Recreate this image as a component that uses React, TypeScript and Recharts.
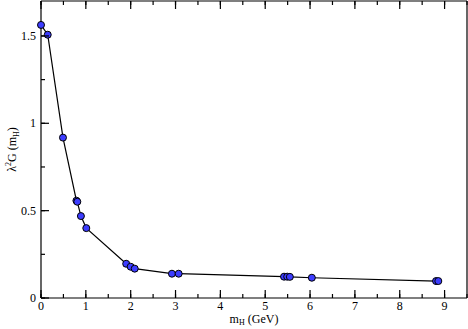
import React from 'react';
import { LineChart, Line, XAxis, YAxis } from 'recharts';

const mH = [0.0, 0.15, 0.49, 0.79, 0.81, 0.89, 1.01, 1.9, 2.0, 2.09, 2.92, 3.07, 5.42, 5.49, 5.55, 6.04, 8.81, 8.86];
const lambda2G = [1.563, 1.507, 0.918, 0.557, 0.551, 0.469, 0.4, 0.196, 0.179, 0.168, 0.139, 0.139, 0.122, 0.122, 0.121, 0.116, 0.097, 0.097];

const xTicks = [0, 0.5, 1, 1.5, 2, 2.5, 3, 3.5, 4, 4.5, 5, 5.5, 6, 6.5, 7, 7.5, 8, 8.5, 9, 9.5];
const yTicks = [0, 0.25, 0.5, 0.75, 1, 1.25, 1.5];

const data = mH.map((m, i) => ({ m, g: lambda2G[i] }));

const FONT = '"Liberation Serif", "DejaVu Serif", serif';
const MINOR = 4; // minor tick length (drawn by recharts, pointing inward)
const MAJOR = 8;
const TW = 1.2;

const isMajorX = (v: number) => Number.isInteger(v);
const isMajorY = (v: number) => Math.abs(v * 2 - Math.round(v * 2)) < 1e-9;

// custom ticks get the text anchor point, which sits MINOR px inside the axis line
const BottomTick = (props: any) => {
  const { x, y, payload } = props;
  if (!isMajorX(payload.value)) return <g />;
  const ay = y + MINOR;
  return (
    <g>
      <rect x={x - TW / 2} y={ay - MAJOR} width={TW} height={MAJOR} fill="#000" />
      <text x={x} y={ay + 12} textAnchor="middle" fontFamily={FONT} fontSize={12} fill="#000" stroke="none">
        {payload.value}
      </text>
    </g>
  );
};

const TopTick = (props: any) => {
  const { x, y, payload } = props;
  if (!isMajorX(payload.value)) return <g />;
  const ay = y - MINOR;
  return <rect x={x - TW / 2} y={ay} width={TW} height={MAJOR} fill="#000" />;
};

const LeftTick = (props: any) => {
  const { x, y, payload } = props;
  if (!isMajorY(payload.value)) return <g />;
  const ax = x - MINOR;
  return (
    <g>
      <rect x={ax} y={y - TW / 2} width={MAJOR} height={TW} fill="#000" />
      <text x={ax - 5} y={y + 4} textAnchor="end" fontFamily={FONT} fontSize={12} fill="#000" stroke="none">
        {payload.value}
      </text>
    </g>
  );
};

const RightTick = (props: any) => {
  const { x, y, payload } = props;
  if (!isMajorY(payload.value)) return <g />;
  const ax = x + MINOR;
  return <rect x={ax - MAJOR} y={y - TW / 2} width={MAJOR} height={TW} fill="#000" />;
};

const XLabel = (props: any) => {
  const { x, y, width } = props.viewBox;
  return (
    <text x={x + width / 2} y={y + 25} textAnchor="middle" fontFamily={FONT} fontSize={12} fill="#000">
      m<tspan fontSize={8} dy={2}>H</tspan>
      <tspan dy={-2}> (GeV)</tspan>
    </text>
  );
};

const YLabel = (props: any) => {
  const { y, height } = props.viewBox;
  const cx = 16;
  const cy = y + height / 2;
  return (
    <text x={cx} y={cy} textAnchor="middle" fontFamily={FONT} fontSize={12} fill="#000" transform={`rotate(-90 ${cx} ${cy})`}>
      λ<tspan fontSize={8} dy={-5}>2</tspan>
      <tspan dy={5}>G (m</tspan>
      <tspan fontSize={8} dy={3}>H</tspan>
      <tspan dy={-3}>)</tspan>
    </text>
  );
};

const axisLine = { stroke: '#000', strokeWidth: 1.2 };
const tickLine = { stroke: '#000', strokeWidth: TW };

export default function App() {
  return (
    <div style={{ position: 'absolute', left: 0, top: 0, background: '#fff' }}>
      <LineChart width={468} height={329} data={data} margin={{ top: 0, right: 0, left: 0, bottom: 0 }}>
        <XAxis xAxisId="bottom" dataKey="m" type="number" domain={[0, 9.5]} ticks={xTicks} interval={0} height={31}
          tickSize={-MINOR} tickMargin={0} tickLine={tickLine} tick={<BottomTick />} axisLine={axisLine} label={<XLabel />} />
        <XAxis xAxisId="top" orientation="top" dataKey="m" type="number" domain={[0, 9.5]} ticks={xTicks} interval={0} height={1}
          tickSize={-MINOR} tickMargin={0} tickLine={tickLine} tick={<TopTick />} axisLine={axisLine} />
        <YAxis yAxisId="left" type="number" domain={[0, 1.7]} ticks={yTicks} interval={0} width={41}
          tickSize={-MINOR} tickMargin={0} tickLine={tickLine} tick={<LeftTick />} axisLine={axisLine} label={<YLabel />} />
        <YAxis yAxisId="right" orientation="right" type="number" domain={[0, 1.7]} ticks={yTicks} interval={0} width={1}
          tickSize={-MINOR} tickMargin={0} tickLine={tickLine} tick={<RightTick />} axisLine={axisLine} />
        <Line xAxisId="bottom" yAxisId="left" dataKey="g" type="linear" stroke="#000" strokeWidth={1.2}
          dot={{ r: 3.5, fill: '#3c3cff', stroke: '#000', strokeWidth: 1 }} isAnimationActive={false} />
      </LineChart>
    </div>
  );
}
